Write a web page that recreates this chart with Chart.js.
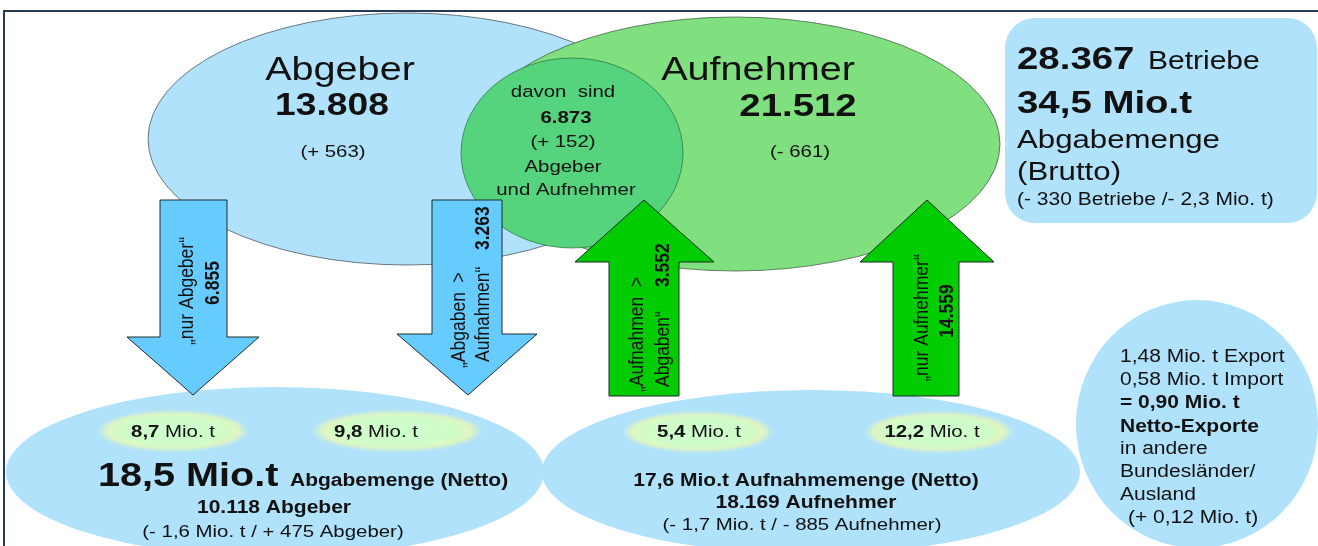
<!DOCTYPE html>
<html>
<head>
<meta charset="utf-8">
<script src="https://cdn.jsdelivr.net/npm/chart.js@4/dist/chart.umd.min.js"></script>
<style>
html,body{margin:0;padding:0;background:#fff;}
#c{display:block;}
</style>
</head>
<body>
<canvas id="c" width="1318" height="546"></canvas>
<script>
// ---------------- DATA ----------------
const groupNames   = ['Abgeber', 'Aufnehmer', 'Abgeber und Aufnehmer'];
const groupCounts  = [13808, 21512, 6873];
const groupChanges = [563, -661, 152];

const flowNames  = ['nur Abgeber', 'Abgaben > Aufnahmen', 'Aufnahmen > Abgaben', 'nur Aufnehmer'];
const flowCounts = [6855, 3263, 3552, 14559];
const flowTonnes = [8.7, 9.8, 5.4, 12.2];          // Mio. t

const nettoLabels   = ['Abgabemenge (Netto)', 'Aufnahmemenge (Netto)'];
const nettoTonnes   = [18.5, 17.6];                 // Mio. t
const nettoCounts   = [10118, 18169];
const nettoChangeT  = [-1.6, -1.7];                 // Mio. t
const nettoChangeN  = [475, -885];

const totalBetriebe = [28367];
const bruttoTonnes  = [34.5];
const bruttoChanges = [-330, -2.3];                 // Betriebe, Mio. t

const tradeTonnes   = [1.48, 0.58, 0.90];           // Export, Import, Netto-Export
const tradeChange   = [0.12];

// ---------------- FORMATTERS ----------------
const intDE = v => String(Math.abs(v)).replace(/\B(?=(\d{3})+(?!\d))/g, '.');
const decDE = (v, d) => Math.abs(v).toFixed(d).replace('.', ',');
const sgn = v => (v < 0 ? '- ' : '+ ');

// ---------------- LAYOUT (pixel-space of the scales) ----------------
const COL = {
  blue: '#b0e2fb', green: '#80e080', inner: '#56d37d',
  arrowBlue: '#66ccff', arrowGreen: '#00cc00', text: '#111111'
};
const ellipses = [
  {cx: 407, cy: 139, rx: 259, ry: 126, fill: COL.blue,  stroke: 'rgba(70,80,90,0.75)'},
  {cx: 735, cy: 144, rx: 265, ry: 127, fill: COL.green, stroke: 'rgba(60,90,60,0.75)'},
  {cx: 572, cy: 153, rx: 111, ry: 95,  fill: COL.inner, stroke: 'rgba(40,110,60,0.7)'},
  {cx: 275, cy: 472, rx: 269, ry: 85,  fill: COL.blue},
  {cx: 811, cy: 472, rx: 269, ry: 82,  fill: COL.blue},
  {cx: 1197, cy: 424, rx: 121, ry: 124, fill: COL.blue}
];
const glows = [
  {cx: 173, cy: 431, rx: 77, ry: 21},
  {cx: 397, cy: 431, rx: 87, ry: 21},
  {cx: 698, cy: 432, rx: 77, ry: 21},
  {cx: 939, cy: 432, rx: 76, ry: 21}
];
const box = {x: 1005, y: 18, w: 312, h: 205, r: 30};
// arrows: shaft left/right, head left/right, start (flat end), headBase, tip x/y
const arrows = [
  {dir: 'down', sl: 160, sr: 227, hl: 127, hr: 259, end: 200, base: 337, tx: 193, ty: 395, c: COL.arrowBlue},
  {dir: 'down', sl: 432, sr: 502, hl: 397, hr: 537, end: 200, base: 334, tx: 468, ty: 395, c: COL.arrowBlue},
  {dir: 'up',   sl: 609, sr: 679, hl: 575, hr: 714, end: 396, base: 262, tx: 644, ty: 200, c: COL.arrowGreen},
  {dir: 'up',   sl: 893, sr: 959, hl: 860, hr: 994, end: 396, base: 262, tx: 927, ty: 200, c: COL.arrowGreen}
];

const R = (t, s, b) => ({t, s, b: !!b});
const texts = [
  // top venn
  {x: 340, y: 80,  a: 'center', runs: [R(groupNames[0], 33)]},
  {x: 332, y: 115, a: 'center', runs: [R(intDE(groupCounts[0]), 31, 1)]},
  {x: 333, y: 157, a: 'center', runs: [R('(' + sgn(groupChanges[0]) + intDE(groupChanges[0]) + ')', 17)]},
  {x: 758, y: 80,  a: 'center', runs: [R(groupNames[1], 33)]},
  {x: 798, y: 116, a: 'center', runs: [R(intDE(groupCounts[1]), 32, 1)]},
  {x: 800, y: 157, a: 'center', runs: [R('(' + sgn(groupChanges[1]) + intDE(groupChanges[1]) + ')', 17)]},
  {x: 563, y: 97,  a: 'center', runs: [R('davon  sind', 17)]},
  {x: 566, y: 123, a: 'center', runs: [R(intDE(groupCounts[2]), 17, 1)]},
  {x: 563, y: 147, a: 'center', runs: [R('(' + sgn(groupChanges[2]) + intDE(groupChanges[2]) + ')', 17)]},
  {x: 563, y: 172, a: 'center', runs: [R('Abgeber', 17)]},
  {x: 566, y: 195, a: 'center', runs: [R('und Aufnehmer', 17)]},
  // box
  {x: 1017, y: 69,  runs: [R(intDE(totalBetriebe[0]), 32, 1)]},
  {x: 1148, y: 69,  runs: [R('Betriebe', 25)]},
  {x: 1017, y: 113, runs: [R(decDE(bruttoTonnes[0], 1) + ' Mio.t', 32, 1)]},
  {x: 1017, y: 148, runs: [R('Abgabemenge', 26)]},
  {x: 1017, y: 180, runs: [R('(Brutto)', 26)]},
  {x: 1017, y: 205, runs: [R('(' + sgn(bruttoChanges[0]) + intDE(bruttoChanges[0]) + ' Betriebe /' + sgn(bruttoChanges[1]).trim() + ' ' + decDE(bruttoChanges[1], 1) + ' Mio. t)', 17.5)]},
  // bottom left
  {x: 173, y: 437, a: 'center', runs: [R(decDE(flowTonnes[0], 1), 17, 1), R(' Mio. t', 17)]},
  {x: 376, y: 437, a: 'center', runs: [R(decDE(flowTonnes[1], 1), 17, 1), R(' Mio. t', 17)]},
  {x: 98,  y: 486, runs: [R(decDE(nettoTonnes[0], 1) + ' Mio.t', 33, 1)]},
  {x: 290, y: 486, runs: [R(nettoLabels[0], 17.5, 1)]},
  {x: 274, y: 513, a: 'center', runs: [R(intDE(nettoCounts[0]) + ' Abgeber', 17.5, 1)]},
  {x: 273, y: 537, a: 'center', runs: [R('(' + sgn(nettoChangeT[0]) + decDE(nettoChangeT[0], 1) + ' Mio. t / ' + sgn(nettoChangeN[0]) + intDE(nettoChangeN[0]) + ' Abgeber)', 17)]},
  // bottom middle
  {x: 699, y: 437, a: 'center', runs: [R(decDE(flowTonnes[2], 1), 17, 1), R(' Mio. t', 17)]},
  {x: 932, y: 437, a: 'center', runs: [R(decDE(flowTonnes[3], 1), 17, 1), R(' Mio. t', 17)]},
  {x: 806, y: 486, a: 'center', runs: [R(decDE(nettoTonnes[1], 1) + ' Mio.t ' + nettoLabels[1], 17.5, 1)]},
  {x: 806, y: 508, a: 'center', runs: [R(intDE(nettoCounts[1]) + ' Aufnehmer', 17.5, 1)]},
  {x: 802, y: 530, a: 'center', runs: [R('(' + sgn(nettoChangeT[1]) + decDE(nettoChangeT[1], 1) + ' Mio. t / ' + sgn(nettoChangeN[1]) + intDE(nettoChangeN[1]) + ' Aufnehmer)', 17)]},
  // right ellipse
  {x: 1120, y: 362, runs: [R(decDE(tradeTonnes[0], 2) + ' Mio. t Export', 17.5)]},
  {x: 1120, y: 385, runs: [R(decDE(tradeTonnes[1], 2) + ' Mio. t Import', 17.5)]},
  {x: 1120, y: 408, runs: [R('= ' + decDE(tradeTonnes[2], 2) + ' Mio. t', 17.5, 1)]},
  {x: 1120, y: 432, runs: [R('Netto-Exporte', 17.5, 1)]},
  {x: 1120, y: 454, runs: [R('in andere', 17.5)]},
  {x: 1120, y: 477, runs: [R('Bundesländer/', 17.5)]},
  {x: 1120, y: 500, runs: [R('Ausland', 17.5)]},
  {x: 1128, y: 523, runs: [R('(+ ' + decDE(tradeChange[0], 2) + ' Mio. t)', 17.5)]},
  // arrows (rotated)
  {x: 187, y: 291, a: 'center', rot: 1, runs: [R('„' + flowNames[0] + '“', 17.5)]},
  {x: 213, y: 283, a: 'center', rot: 1, runs: [R(intDE(flowCounts[0]), 17.5, 1)]},
  {x: 459, y: 368, rot: 1, runs: [R('„Abgaben  >', 17.5)]},
  {x: 483, y: 362, rot: 1, runs: [R('Aufnahmen“', 17.5)]},
  {x: 483, y: 250, rot: 1, runs: [R(intDE(flowCounts[1]), 17.5, 1)]},
  {x: 637, y: 392, rot: 1, runs: [R('„Aufnahmen  >', 17.5)]},
  {x: 663, y: 387, rot: 1, runs: [R('Abgaben“', 17.5)]},
  {x: 663, y: 287, rot: 1, runs: [R(intDE(flowCounts[2]), 17.5, 1)]},
  {x: 922, y: 318, a: 'center', rot: 1, runs: [R('„' + flowNames[3] + '“', 17.5)]},
  {x: 947, y: 311, a: 'center', rot: 1, runs: [R(intDE(flowCounts[3]), 17.5, 1)]}
];

const SX = 1.2;  // horizontal stretch of lettering in the reference
const FAMILY = '"Liberation Sans", Arial, Helvetica, sans-serif';

// ---------------- PLUGIN ----------------
const diagram = {
  id: 'diagram',
  beforeDatasetsDraw(chart) {
    const ctx = chart.ctx, xs = chart.scales.x, ys = chart.scales.y;
    const px = v => xs.getPixelForValue(v), py = v => ys.getPixelForValue(v);
    const dx = v => xs.getPixelForValue(v) - xs.getPixelForValue(0);
    const dy = v => ys.getPixelForValue(v) - ys.getPixelForValue(0);

    ctx.save();
    ctx.fillStyle = '#ffffff';
    ctx.fillRect(0, 0, chart.width, chart.height);

    // frame
    ctx.strokeStyle = '#243a57';
    ctx.lineWidth = 2;
    ctx.strokeRect(px(4), py(11), dx(1340), dy(560));

    // ellipses
    ellipses.forEach(e => {
      ctx.beginPath();
      ctx.ellipse(px(e.cx), py(e.cy), Math.abs(dx(e.rx)), Math.abs(dy(e.ry)), 0, 0, Math.PI * 2);
      ctx.fillStyle = e.fill;
      ctx.fill();
      if (e.stroke) { ctx.strokeStyle = e.stroke; ctx.lineWidth = 1; ctx.stroke(); }
    });

    // rounded box
    ctx.beginPath();
    ctx.roundRect(px(box.x), py(box.y), dx(box.w), Math.abs(dy(box.h)), box.r);
    ctx.fillStyle = COL.blue;
    ctx.fill();

    // glows
    glows.forEach(g => {
      ctx.save();
      ctx.filter = 'blur(1.5px)';
      ctx.translate(px(g.cx), py(g.cy));
      const rx = Math.abs(dx(g.rx)), ry = Math.abs(dy(g.ry));
      ctx.scale(1, ry / rx);
      const gr = ctx.createRadialGradient(0, 0, 0, 0, 0, rx);
      gr.addColorStop(0, 'rgb(204,255,204)');
      gr.addColorStop(0.7, 'rgb(208,252,200)');
      gr.addColorStop(0.86, 'rgb(226,244,190)');
      gr.addColorStop(1, 'rgba(205,236,225,0)');
      ctx.beginPath();
      ctx.arc(0, 0, rx, 0, Math.PI * 2);
      ctx.fillStyle = gr;
      ctx.fill();
      ctx.restore();
    });

    // arrows
    arrows.forEach(a => {
      ctx.beginPath();
      ctx.moveTo(px(a.sl), py(a.end));
      ctx.lineTo(px(a.sr), py(a.end));
      ctx.lineTo(px(a.sr), py(a.base));
      ctx.lineTo(px(a.hr), py(a.base));
      ctx.lineTo(px(a.tx), py(a.ty));
      ctx.lineTo(px(a.hl), py(a.base));
      ctx.lineTo(px(a.sl), py(a.base));
      ctx.closePath();
      ctx.fillStyle = a.c;
      ctx.fill();
      ctx.strokeStyle = '#1e2a2a';
      ctx.lineWidth = 1;
      ctx.stroke();
    });

    // texts
    ctx.fillStyle = COL.text;
    texts.forEach(it => {
      ctx.save();
      ctx.translate(px(it.x), py(it.y));
      ctx.scale(SX, 1);
      if (it.rot) ctx.rotate(-Math.PI / 2);
      let total = 0;
      it.runs.forEach(r => {
        ctx.font = (r.b ? 'bold ' : '') + r.s + 'px ' + FAMILY;
        r.w = ctx.measureText(r.t).width;
        total += r.w;
      });
      let start = it.a === 'center' ? -total / 2 : 0;
      ctx.textAlign = 'left';
      ctx.textBaseline = it.rot ? 'middle' : 'alphabetic';
      it.runs.forEach(r => {
        ctx.font = (r.b ? 'bold ' : '') + r.s + 'px ' + FAMILY;
        ctx.fillText(r.t, start, 0);
        start += r.w;
      });
      ctx.restore();
    });
    ctx.restore();
  }
};

new Chart(document.getElementById('c'), {
  type: 'scatter',
  data: { datasets: [{ data: [], pointRadius: 0 }] },
  options: {
    responsive: false,
    animation: false,
    layout: { padding: 0 },
    plugins: { legend: { display: false }, tooltip: { enabled: false } },
    scales: {
      x: { type: 'linear', min: 0, max: 1318, display: false },
      y: { type: 'linear', min: 0, max: 546, reverse: true, display: false }
    }
  },
  plugins: [diagram]
});
</script>
</body>
</html>
